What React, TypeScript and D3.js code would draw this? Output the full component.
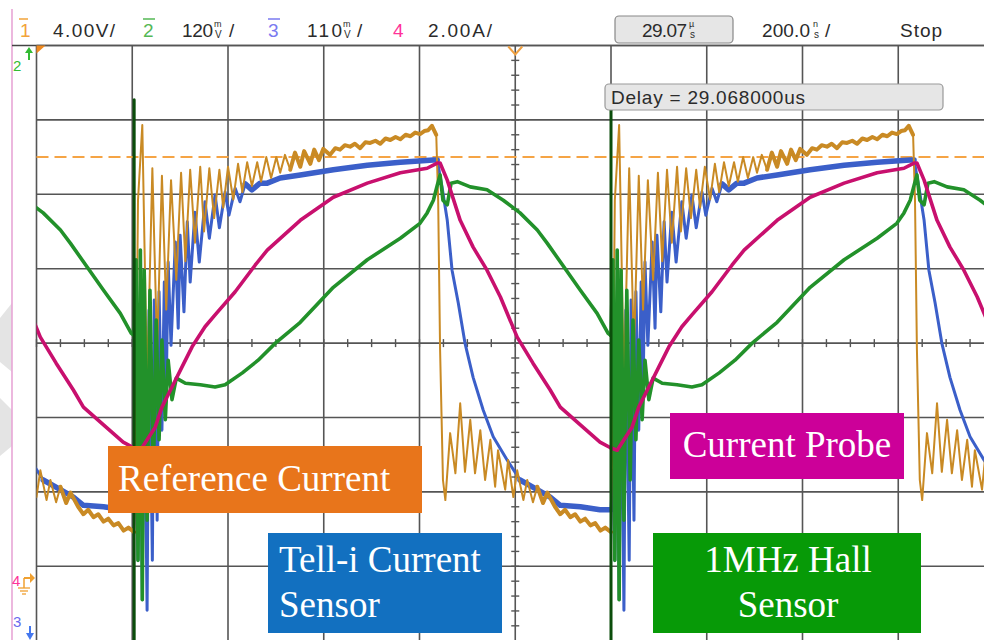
import React from "react";
import * as d3 from "d3";

// ---------- data (time in ns relative to each switch-on edge, value in divisions) ----------
const switchTimes = [-1792, -796, 200];
const spikeTops = [3.2, 3.27, 3.13];

const orangeTrace: [number, number][] = [
  [0, -2.51], [4, -0.76], [8, 1.92], [17, 2.93], [27, -0.6], [38, 2.35], [48, -0.1], [58, 2.25],
  [67, 0.45], [77, 2.19], [88, 0.85], [98, 2.29], [107, 1.1], [117, 2.33], [127, 1.35], [138, 2.37],
  [146, 1.5], [157, 2.35], [167, 1.68], [178, 2.33], [186, 1.82], [196, 2.37], [207, 1.93], [217, 2.41],
  [226, 2.03], [236, 2.43], [246, 2.11], [257, 2.43], [265, 2.17], [276, 2.5], [286, 2.22], [297, 2.5],
  [305, 2.29], [315, 2.53], [326, 2.33], [336, 2.56], [347, 2.37], [355, 2.58], [368, 2.41], [376, 2.6],
  [386, 2.46], [395, 2.61], [409, 2.53], [420, 2.62], [430, 2.6], [440, 2.66], [451, 2.64], [461, 2.68],
  [472, 2.62], [483, 2.7], [493, 2.69], [504, 2.72], [514, 2.68], [525, 2.75], [535, 2.73], [546, 2.77],
  [556, 2.74], [567, 2.8], [577, 2.78], [587, 2.83], [597, 2.81], [606, 2.85], [614, 2.86], [622, 2.92],
  [631, 2.8], [635, 1.92], [639, -0.09], [645, -1.84], [650, -2.11], [660, -1.21], [671, -1.75], [681, -0.81],
  [691, -1.73], [702, -1.03], [712, -1.75], [723, -1.17], [733, -1.84], [744, -1.3], [754, -1.93], [760, -1.44],
  [775, -1.97], [781, -1.57], [792, -2.07], [800, -1.71], [813, -2.11], [821, -1.84], [833, -2.14], [842, -1.93],
  [854, -2.15], [863, -2.01], [879, -2.2], [890, -2.3], [900, -2.24], [911, -2.34], [921, -2.3], [932, -2.4],
  [942, -2.36], [953, -2.45], [963, -2.42], [974, -2.52], [984, -2.48], [996, -2.54],
];

const blueTrace: [number, number][] = [
  [0, -2.24], [4, -1.71], [8, -2.92], [13, -0.09], [17, -3.45], [21, 0.04], [27, -3.59], [31, 0.44],
  [38, -2.92], [42, 0.58], [48, -2.38], [52, 0.69], [58, -1.17], [63, 0.82], [67, -0.63], [71, 1.09],
  [77, -0.03], [86, 1.36], [92, 0.2], [96, 1.45], [104, 0.42], [111, 1.63], [117, 0.82], [127, 1.76],
  [136, 1.09], [148, 1.9], [157, 1.41], [169, 1.99], [178, 1.55], [190, 2.03], [198, 1.72], [211, 2.08],
  [221, 1.9], [232, 2.14], [246, 2.06], [263, 2.15], [278, 2.15], [305, 2.22], [347, 2.26], [416, 2.33],
  [487, 2.39], [556, 2.43], [625, 2.46], [633, 2.46], [643, 2.1], [654, 1.65], [664, 0.98], [677, 0.54],
  [691, 0.0], [708, -0.46], [729, -0.9], [750, -1.26], [779, -1.57], [806, -1.84], [842, -1.97], [869, -2.07],
  [890, -2.18], [932, -2.2], [973, -2.24], [996, -2.24],
];

const magentaTrace: [number, number][] = [
  [0, -1.41], [13, -1.44], [23, -1.34], [44, -1.13], [58, -0.86], [79, -0.59], [100, -0.32], [121, -0.05],
  [148, 0.22], [169, 0.38], [211, 0.69], [253, 1.05], [278, 1.25], [347, 1.65], [416, 1.96], [487, 2.15],
  [556, 2.29], [612, 2.35], [633, 2.42], [639, 2.42], [654, 2.19], [681, 1.65], [708, 1.29], [737, 0.98],
  [765, 0.62], [800, 0.08], [833, -0.27], [869, -0.63], [890, -0.86], [932, -1.1], [973, -1.33], [996, -1.41],
];

const greenTrace: [number, number][] = [
  [0, 0.1], [4, 1.12], [8, -2.92], [13, 1.25], [17, -3.45], [21, 0.98], [27, -2.38], [33, 0.71],
  [40, -1.84], [46, 0.31], [52, -1.3], [58, 0.04], [65, -1.03], [71, -0.23], [79, -0.76], [88, -0.47],
  [107, -0.54], [138, -0.56], [169, -0.59], [190, -0.56], [226, -0.4], [259, -0.23], [295, 0.0], [347, 0.28],
  [416, 0.75], [487, 1.12], [556, 1.41], [597, 1.61], [612, 1.75], [625, 1.92], [633, 2.12], [639, 2.26],
  [645, 1.92], [654, 1.86], [662, 2.15], [675, 2.17], [702, 2.1], [737, 2.06], [771, 1.92], [806, 1.75],
  [842, 1.52], [863, 1.34], [932, 0.71], [967, 0.4], [990, 0.13], [996, 0.1],
];

// time windows (ns after switch-on) where the real traces carry a wide noise band
const orangeNoisy: [number, number][] = [[320, 632], [840, 996]];
const blueNoisy: [number, number][] = [[230, 634], [780, 996]];

const triggerLevel = 2.5;
const timeTicks = d3.range(-1000, 1001, 200);
const voltTicks = d3.range(-4, 5, 1);

// ---------- layout ----------
const W = 984;
const H = 640;
const x = d3.scaleLinear().domain([-1000, 1000]).range([36.5, 36.5 + 10 * 95.75]);
const y = d3.scaleLinear().domain([4, -4]).range([45.5, 45.5 + 8 * 74.4]);

const tracePath = (data: [number, number][], offset: number) =>
  d3
    .line<[number, number]>()
    .x((d) => x(d[0] + offset))
    .y((d) => y(d[1]))(data) || "";

const slice = (data: [number, number][], [a, b]: [number, number]) =>
  data.filter((d) => d[0] >= a && d[0] <= b);

const HDR = "'Liberation Sans', 'DejaVu Sans', sans-serif";
const SERIF = "'Liberation Serif', 'Times New Roman', serif";
const INK = "#2b2b2b";

function Stacked({ x0, top, bottom }: { x0: number; top: string; bottom: string }) {
  return (
    <g fontFamily={HDR} fill={INK}>
      <text x={x0} y={27} fontSize={9}>{top}</text>
      <text x={x0 + 1} y={38} fontSize={10}>{bottom}</text>
    </g>
  );
}

export default function App() {
  const left = x(-1000);
  const top = y(4);
  const cx = x(0);
  const cy = y(0);
  const minorX = d3.range(-1000, 1001, 50);
  const minorY = d3.range(-4, 4.01, 0.2);

  const traces = [
    { data: blueTrace, color: "#3b5fc9", w: 3, noisy: blueNoisy, nw: 5.5 },
    { data: orangeTrace, color: "#c98a24", w: 2, noisy: orangeNoisy, nw: 4 },
    { data: greenTrace, color: "#22912a", w: 3.6, noisy: [] as [number, number][], nw: 0 },
    { data: magentaTrace, color: "#c8106e", w: 3.6, noisy: [] as [number, number][], nw: 0 },
  ];

  return (
    <svg
      width={W}
      height={H}
      style={{ position: "absolute", left: 0, top: 0, background: "#fff" }}
    >
      <defs>
        <clipPath id="plot">
          <rect x={left} y={top} width={W - left} height={H - top} />
        </clipPath>
      </defs>
      <rect x={0} y={0} width={W} height={H} fill="#fff" />

      {/* faint watermark shapes at left */}
      <polygon points="0,318 12,303 12,372 0,362" fill="#e4e4e4" />
      <polygon points="0,398 12,410 12,446 0,456" fill="#e4e4e4" />

      {/* pink left border */}
      <line x1={12} x2={12} y1={9} y2={H} stroke="#e8a6d6" strokeWidth={1.6} />

      {/* header */}
      <line x1={12} x2={W} y1={top} y2={top} stroke="#444" strokeWidth={1.6} />
      <g fontFamily={HDR} fontSize={19} fill={INK}>
        <line x1={19} x2={28} y1={19} y2={19} stroke="#f2a33a" strokeWidth={1.5} />
        <text x={20} y={37} fill="#f2a33a">1</text>
        <text x={53} y={37} textLength={62}>4.00V/</text>

        <line x1={143} x2={155} y1={19} y2={19} stroke="#55b855" strokeWidth={1.5} />
        <text x={143} y={37} fill="#55b855">2</text>
        <text x={182} y={37} textLength={31}>120</text>
        <text x={229} y={37}>/</text>

        <line x1={268} x2={280} y1={19} y2={19} stroke="#7a7af0" strokeWidth={1.5} />
        <text x={268} y={37} fill="#7a7af0">3</text>
        <text x={307} y={37} textLength={35}>110</text>
        <text x={357} y={37}>/</text>

        <text x={393} y={37} fill="#ff3399">4</text>
        <text x={428} y={37} textLength={64}>2.00A/</text>

        <rect x={615} y={16} width={118} height={27} rx={4} fill="#e6e6e6" stroke="#888" strokeWidth={1.2} />
        <text x={642} y={37} textLength={45}>29.07</text>
        <text x={762} y={37} textLength={48}>200.0</text>
        <text x={825} y={37}>/</text>
        <text x={900} y={37} textLength={42}>Stop</text>
      </g>
      <Stacked x0={214} top="m" bottom="V" />
      <Stacked x0={343} top="m" bottom="V" />
      <Stacked x0={689} top="µ" bottom="s" />
      <Stacked x0={813} top="n" bottom="s" />

      {/* graticule */}
      <g stroke="#555" strokeWidth={1.6}>
        {timeTicks.map((t) => (
          <line key={"v" + t} x1={x(t)} x2={x(t)} y1={top} y2={H} />
        ))}
        {voltTicks.map((v) => (
          <line key={"h" + v} x1={left} x2={W} y1={y(v)} y2={y(v)} />
        ))}
        {minorX.map((t) => (
          <line key={"mx" + t} x1={x(t)} x2={x(t)} y1={cy - 4} y2={cy + 4} strokeWidth={1.4} />
        ))}
        {minorY.map((v) => (
          <line key={"my" + v} x1={cx - 4} x2={cx + 4} y1={y(v)} y2={y(v)} strokeWidth={1.4} />
        ))}
      </g>

      {/* trigger level */}
      <line
        x1={left}
        x2={W}
        y1={y(triggerLevel)}
        y2={y(triggerLevel)}
        stroke="#f5a445"
        strokeWidth={2}
        strokeDasharray="12 6"
      />

      {/* traces */}
      <g clipPath="url(#plot)" fill="none" strokeLinejoin="round" strokeLinecap="round">
        {traces.map((tr, i) =>
          switchTimes.map((s) => (
            <g key={i + "_" + s}>
              <path d={tracePath(tr.data, s)} stroke={tr.color} strokeWidth={tr.w} />
              {tr.noisy.map((win, j) => (
                <path
                  key={j}
                  d={tracePath(slice(tr.data, win), s)}
                  stroke={tr.color}
                  strokeWidth={tr.nw}
                />
              ))}
            </g>
          ))
        )}
        {switchTimes.map((s, i) => (
          <line
            key={"sp" + s}
            x1={x(s)}
            x2={x(s)}
            y1={y(spikeTops[i])}
            y2={H}
            stroke="#0b4d0b"
            strokeWidth={3}
          />
        ))}
      </g>

      {/* markers */}
      <polygon points={`${left},${top} ${left + 9},${top} ${left},${top + 8}`} fill="#f08a20" />
      <polyline
        points={`${cx - 7},${top + 1} ${cx},${top + 9} ${cx + 7},${top + 1}`}
        fill="none"
        stroke="#f0a040"
        strokeWidth={2}
      />
      <g fontFamily={HDR} fontSize={15}>
        <text x={13} y={71} fill="#33bb33">2</text>
        <line x1={29} x2={29} y1={50} y2={60} stroke="#33bb33" strokeWidth={2} />
        <polygon points="25,53 29,47 33,53" fill="#33bb33" />

        <text x={12} y={586} fill="#ff3399">4</text>
        <line x1={24} x2={24} y1={578} y2={588} stroke="#f0a030" strokeWidth={1.5} />
        <line x1={24} x2={31} y1={578} y2={578} stroke="#f0a030" strokeWidth={2} />
        <polygon points="30,573 35,578 30,583" fill="#f0a030" />
        <line x1={18} x2={30} y1={588} y2={588} stroke="#f0a030" strokeWidth={1.3} />
        <line x1={20} x2={28} y1={591} y2={591} stroke="#f0a030" strokeWidth={1.3} />
        <line x1={22} x2={26} y1={594} y2={594} stroke="#f0a030" strokeWidth={1.3} />

        <text x={13} y={627} fill="#6a6aee">3</text>
        <line x1={30} x2={30} y1={626} y2={636} stroke="#4477ee" strokeWidth={2} />
        <polygon points="26,633 30,640 34,633" fill="#4477ee" />
      </g>

      {/* delay box */}
      <rect x={605} y={84} width={338} height={26} rx={4} fill="#e6e6e6" stroke="#999" strokeWidth={1.2} />
      <text x={611} y={104} fontFamily={HDR} fontSize={19} fill={INK} textLength={194}>
        Delay = 29.068000us
      </text>

      {/* labels */}
      <g fontFamily={SERIF} fontSize={37} fill="#fff">
        <rect x={108} y={446} width={314} height={67} fill="#e8751b" />
        <text x={118} y={491}>Reference Current</text>

        <rect x={268} y={533} width={234} height={100} fill="#1270c0" />
        <text x={279} y={572}>Tell-i Current</text>
        <text x={279} y={617}>Sensor</text>

        <rect x={670} y={413} width={234} height={66} fill="#cc0099" />
        <text x={787} y={457} textAnchor="middle">Current Probe</text>

        <rect x={653} y={533} width={268} height={100} fill="#079a07" />
        <text x={788} y={572} textAnchor="middle">1MHz Hall</text>
        <text x={788} y={617} textAnchor="middle">Sensor</text>
      </g>
    </svg>
  );
}
